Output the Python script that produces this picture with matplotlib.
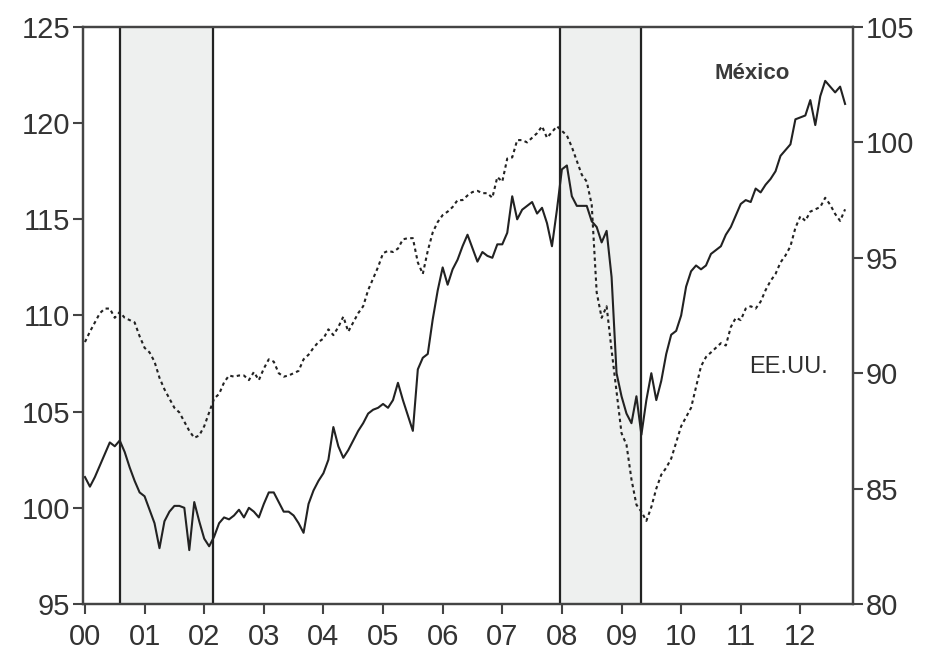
import matplotlib
matplotlib.use("Agg")
import matplotlib.pyplot as plt

plt.rcParams['font.family'] = ['Liberation Sans', 'DejaVu Sans']

# monthly index: 0 = Jan 2000 ... 153 = Oct 2012
mexico = [
    101.6, 101.1, 101.6, 102.2, 102.8, 103.4, 103.2, 103.5, 102.9, 102.1, 101.4, 100.8,  # 2000
    100.6, 99.9, 99.2, 97.9, 99.3, 99.8, 100.1, 100.1, 100.0, 97.8, 100.3, 99.3,       # 2001
    98.4, 98.0, 98.5, 99.2, 99.5, 99.4, 99.6, 99.9, 99.5, 100.0, 99.8, 99.5,           # 2002
    100.2, 100.8, 100.8, 100.3, 99.8, 99.8, 99.6, 99.2, 98.7, 100.2, 100.9, 101.4,     # 2003
    101.8, 102.5, 104.2, 103.2, 102.6, 103.0, 103.5, 104.0, 104.4, 104.9, 105.1, 105.2,  # 2004
    105.4, 105.2, 105.6, 106.5, 105.6, 104.8, 104.0, 107.2, 107.8, 108.0, 109.8, 111.3,  # 2005
    112.5, 111.6, 112.4, 112.9, 113.6, 114.2, 113.5, 112.8, 113.3, 113.1, 113.0, 113.7,  # 2006
    113.7, 114.3, 116.2, 115.0, 115.5, 115.7, 115.9, 115.3, 115.6, 114.8, 113.6, 115.5,  # 2007
    117.6, 117.8, 116.2, 115.7, 115.7, 115.7, 114.9, 114.6, 113.8, 114.4, 112.0, 107.0,  # 2008
    105.8, 104.9, 104.4, 105.8, 103.8, 105.6, 107.0, 105.6, 106.6, 108.0, 109.0, 109.2,  # 2009
    110.0, 111.5, 112.3, 112.6, 112.4, 112.6, 113.2, 113.4, 113.6, 114.2, 114.6, 115.2,  # 2010
    115.8, 116.0, 115.9, 116.6, 116.4, 116.8, 117.1, 117.5, 118.3, 118.6, 118.9, 120.2,  # 2011
    120.3, 120.4, 121.2, 119.9, 121.4, 122.2, 121.9, 121.6, 121.9, 121.0,                # 2012
]

eeuu = [
    91.35, 91.8, 92.2, 92.6, 92.8, 92.8, 92.4, 92.65, 92.4, 92.3, 92.2, 91.6,   # 2000
    91.1, 90.9, 90.5, 89.8, 89.3, 88.9, 88.5, 88.3, 87.9, 87.5, 87.2, 87.3,     # 2001
    87.7, 88.3, 88.9, 89.1, 89.6, 89.9, 89.85, 89.9, 89.9, 89.7, 90.05, 89.7,   # 2002
    90.2, 90.6, 90.5, 90.0, 89.85, 89.9, 90.0, 90.1, 90.6, 90.8, 91.1, 91.35,   # 2003
    91.5, 91.9, 91.65, 92.0, 92.45, 91.8, 92.2, 92.6, 92.9, 93.6, 94.1, 94.6,   # 2004
    95.2, 95.3, 95.25, 95.4, 95.8, 95.85, 95.85, 94.8, 94.3, 95.3, 96.1, 96.55,  # 2005
    96.85, 97.0, 97.2, 97.5, 97.5, 97.7, 97.85, 97.9, 97.8, 97.8, 97.6, 98.5,   # 2006
    98.3, 99.3, 99.35, 100.1, 100.1, 100.0, 100.2, 100.4, 100.7, 100.2, 100.45, 100.7,  # 2007
    100.5, 100.3, 99.8, 99.2, 98.6, 98.3, 97.3, 93.5, 92.4, 92.9, 91.0, 89.2,   # 2008
    87.4, 86.9, 85.4, 84.3, 84.0, 83.6, 84.2, 85.0, 85.6, 85.9, 86.3, 87.0,     # 2009
    87.7, 88.1, 88.5, 89.4, 90.3, 90.7, 90.9, 91.1, 91.3, 91.2, 92.0, 92.4,     # 2010
    92.3, 92.8, 92.9, 92.8, 93.1, 93.6, 94.0, 94.3, 94.8, 95.1, 95.5, 96.3,     # 2011
    96.8, 96.6, 97.0, 97.1, 97.2, 97.6, 97.3, 96.9, 96.6, 97.1,                 # 2012
]

months = list(range(len(mexico)))

# recession periods (month index)
shade_start = [7.0, 95.6]
shade_end = [25.8, 111.9]

year_ticks = list(range(0, 145, 12))
year_labels = ['00', '01', '02', '03', '04', '05', '06', '07', '08', '09', '10', '11', '12']

ink = '#222222'
txt = '#333333'

fig = plt.figure(figsize=(9.25, 6.54), dpi=100)
ax = fig.add_axes([0.0897, 0.0765, 0.8325, 0.8822])

for s, e in zip(shade_start, shade_end):
    ax.axvspan(s, e, color='#eef0ef', zorder=0)
    ax.axvline(s, color=ink, lw=1.6, zorder=1)
    ax.axvline(e, color=ink, lw=1.6, zorder=1)

ax.plot(months, mexico, color=ink, lw=1.5, zorder=3)
ax.set_ylim(95, 125)
ax.set_yticks([95, 100, 105, 110, 115, 120, 125])
ax.set_xlim(-0.4, 154.6)
ax.set_xticks(year_ticks)
ax.set_xticklabels(year_labels)

ax2 = ax.twinx()
ax2.plot(months, eeuu, color=ink, lw=1.5, linestyle=(0, (1.6, 1.6)), zorder=3)
ax2.set_ylim(80, 105)
ax2.set_yticks([80, 85, 90, 95, 100, 105])

for a in (ax, ax2):
    a.tick_params(direction='out', length=7, width=1.5, color='#444444',
                  labelsize=21, labelcolor=txt)
    a.tick_params(axis='y', pad=2)
    for sp in a.spines.values():
        sp.set_color('#444444')
        sp.set_linewidth(1.6)
ax.tick_params(axis='x', pad=7)

ax.text(0.869, 0.92, 'México', transform=ax.transAxes, ha='center', va='center',
        fontsize=16, fontweight='bold', color='#3a3a3a')
ax.text(0.916, 0.411, 'EE.UU.', transform=ax.transAxes, ha='center', va='center',
        fontsize=17, color='#2e2e2e')

fig.savefig('out.png', dpi=100)
